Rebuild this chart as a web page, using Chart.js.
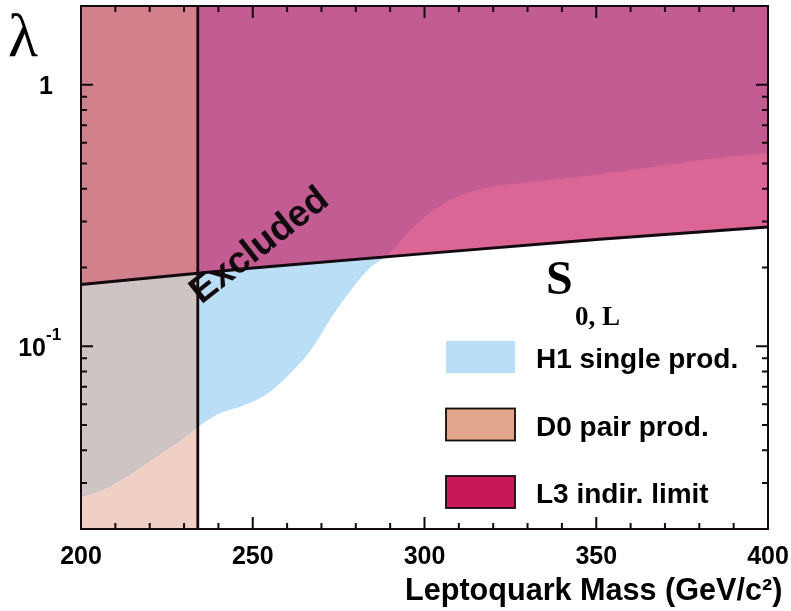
<!DOCTYPE html>
<html>
<head>
<meta charset="utf-8">
<script src="https://cdn.jsdelivr.net/npm/chart.js@4.4.0/dist/chart.umd.min.js"></script>
<style>
html, body { margin: 0; padding: 0; background: #fff; }
#wrap { width: 791px; height: 611px; }
</style>
</head>
<body>
<div id="wrap"><canvas id="lqChart"></canvas></div>
<script>
// H1 single production exclusion contour (mass GeV, coupling lambda)
const h1Mass = [200, 206, 214, 223, 229, 234, 240, 249, 255, 261, 267, 272.5, 278, 284, 289, 296, 303.5, 311, 318, 328, 342, 362, 381, 400];
const h1Lambda = [0.0264, 0.028, 0.032, 0.0385, 0.0435, 0.049, 0.055, 0.0605, 0.067, 0.079, 0.097, 0.1265, 0.160, 0.199, 0.222, 0.279, 0.338, 0.380, 0.403, 0.421, 0.440, 0.476, 0.517, 0.548];

// L3 indirect limit
const l3Mass = [200, 234, 250, 300, 350, 400];
const l3Lambda = [0.172, 0.190, 0.199, 0.226, 0.256, 0.286];

// D0 pair production mass limit
const d0Limit = 234;

const xTicks = [200, 250, 300, 350, 400];
const yTickValues = [0.1, 1];
const yTickLabels = [['10', '-1'], ['1', '']];

const legendLabels = ['H1 single prod.', 'D0 pair prod.', 'L3 indir. limit'];
const legendColors = ['#b9def6', '#e2a68c', '#c8185a'];

const SANS = '"Liberation Sans", Arial, Helvetica, sans-serif';
const SERIF = '"Liberation Serif", "Times New Roman", serif';
const INK = '#120a0e';
const NONE = 'rgba(0,0,0,0)';

const toPts = (xs, ys) => xs.map((x, i) => ({ x: x, y: ys[i] }));
const h1Pts = toPts(h1Mass, h1Lambda);
const l3Pts = toPts(l3Mass, l3Lambda);
const inBand = p => p.x <= d0Limit;

// inward ticks, frame and all the annotation text
const decorPlugin = {
    id: 'decor',
    afterDraw(chart) {
        const ctx = chart.ctx;
        const xs = chart.scales.x, ys = chart.scales.y;
        const a = chart.chartArea;
        ctx.save();
        ctx.strokeStyle = INK;
        ctx.lineWidth = 2;

        // x ticks, every 10 GeV, longer on the labelled ones
        ctx.beginPath();
        for (let v = xs.min; v <= xs.max; v += 10) {
            const px = xs.getPixelForValue(v);
            const len = xTicks.includes(v) ? 12 : 6;
            ctx.moveTo(px, a.bottom); ctx.lineTo(px, a.bottom - len);
            ctx.moveTo(px, a.top); ctx.lineTo(px, a.top + len);
        }
        // y ticks, log decades
        for (let d = 0.01; d <= 1; d *= 10) {
            for (let k = 1; k <= 9; k++) {
                const v = +(k * d).toPrecision(3);
                if (v < ys.min || v > ys.max) continue;
                const py = ys.getPixelForValue(v);
                const len = k === 1 ? 12 : 6;
                ctx.moveTo(a.left, py); ctx.lineTo(a.left + len, py);
                ctx.moveTo(a.right, py); ctx.lineTo(a.right - len, py);
            }
        }
        ctx.stroke();
        ctx.strokeRect(a.left, a.top, a.right - a.left, a.bottom - a.top);

        ctx.fillStyle = '#000';
        // y tick labels
        ctx.textBaseline = 'alphabetic';
        yTickValues.forEach((v, i) => {
            const py = ys.getPixelForValue(v);
            const [base, sup] = yTickLabels[i];
            ctx.font = 'bold 25px ' + SANS;
            ctx.textAlign = 'right';
            if (sup) {
                ctx.fillText(base, 46, py + 10);
                ctx.font = 'bold 17px ' + SANS;
                ctx.textAlign = 'left';
                ctx.fillText(sup, 46, py - 6);
            } else {
                ctx.fillText(base, 53, py + 9);
            }
        });

        // axis titles
        ctx.textAlign = 'left';
        ctx.font = '62px ' + SERIF;
        ctx.fillText('λ', 8, 56);
        ctx.font = 'bold 30.6px ' + SANS;
        ctx.fillText('Leptoquark Mass (GeV/c²)', 405, 600);

        // model label
        ctx.font = 'bold 48px ' + SERIF;
        ctx.fillText('S', 546, 294);
        ctx.font = 'bold 27px ' + SERIF;
        ctx.fillText('0, L', 575, 325);

        // legend
        legendLabels.forEach((lab, i) => {
            const top = 341 + i * 67.5;
            ctx.fillStyle = legendColors[i];
            ctx.fillRect(446, top, 69, 32);
            if (i > 0) {
                ctx.lineWidth = 1.8;
                ctx.strokeRect(446, top, 69, 32);
            }
            ctx.fillStyle = '#000';
            ctx.font = 'bold 28px ' + SANS;
            ctx.fillText(lab, 536, top + 27);
        });

        // rotated label on the boundary
        ctx.translate(266, 254);
        ctx.rotate(-38 * Math.PI / 180);
        ctx.textAlign = 'center';
        ctx.fillStyle = INK;
        ctx.font = 'bold 37px ' + SANS;
        ctx.fillText('Excluded', 0, 0);
        ctx.restore();
    }
};

const flat = { pointRadius: 0, borderWidth: 0, borderColor: NONE, tension: 0 };

new Chart(document.getElementById('lqChart'), {
    type: 'line',
    data: {
        datasets: [
            {
                label: 'L3 + H1',
                data: l3Pts,
                fill: 'end',
                backgroundColor: '#c25c93',
                order: 6,
                ...flat,
            },
            {
                label: 'H1 / L3 only',
                data: h1Pts,
                fill: { target: 0, above: '#db6695', below: '#b9def6' },
                cubicInterpolationMode: 'monotone',
                order: 5,
                ...flat,
            },
            {
                label: 'D0 + L3',
                data: l3Pts.filter(inBand),
                fill: 'end',
                backgroundColor: '#d3808d',
                order: 4,
                ...flat,
            },
            {
                label: 'D0 + H1',
                data: h1Pts.filter(inBand),
                fill: 2,
                backgroundColor: '#cec4c4',
                cubicInterpolationMode: 'monotone',
                order: 3,
                ...flat,
            },
            {
                label: 'D0 only',
                data: h1Pts.filter(inBand),
                fill: 'start',
                backgroundColor: '#f0d0c4',
                cubicInterpolationMode: 'monotone',
                order: 2,
                ...flat,
            },
            {
                label: 'L3 limit',
                data: l3Pts,
                fill: false,
                borderColor: INK,
                borderWidth: 3,
                pointRadius: 0,
                order: 1,
            },
            {
                label: 'D0 limit',
                data: [{ x: d0Limit, y: 0.02 }, { x: d0Limit, y: 2 }],
                fill: false,
                borderColor: INK,
                borderWidth: 2.8,
                pointRadius: 0,
                order: 0,
            },
        ],
    },
    options: {
        responsive: true,
        maintainAspectRatio: false,
        animation: false,
        layout: {
            padding: { left: 81, top: 6, right: 23, bottom: 0 },
        },
        plugins: {
            legend: { display: false },
            tooltip: { enabled: false },
        },
        scales: {
            x: {
                type: 'linear',
                min: 200,
                max: 400,
                afterBuildTicks: (scale) => {
                    scale.ticks = xTicks.map(v => ({ value: v }));
                },
                afterFit: (scale) => {
                    scale.height = 82;
                    scale.paddingLeft = 0;
                    scale.paddingRight = 0;
                },
                grid: { display: false },
                border: { display: false },
                ticks: {
                    color: '#000',
                    padding: 5,
                    maxRotation: 0,
                    autoSkip: false,
                    font: { family: SANS, size: 25, weight: 'bold' },
                },
            },
            y: {
                type: 'logarithmic',
                min: 0.02,
                max: 2,
                display: false,
            },
        },
    },
    plugins: [decorPlugin],
});
</script>
</body>
</html>
